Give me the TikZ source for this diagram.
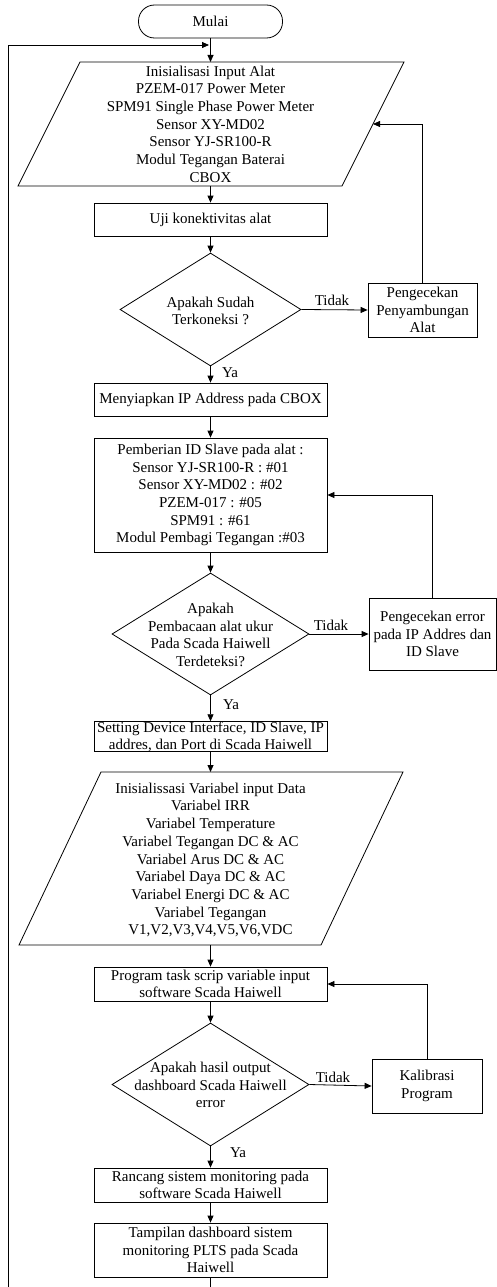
\documentclass[tikz,border=0pt]{standalone}
\usepackage{fontspec}
\setmainfont{Liberation Serif}
\usetikzlibrary{arrows.meta,shapes.geometric}
\begin{document}
\begin{tikzpicture}[x=1pt,y=-1pt,line width=0.8pt,
  font=\fontsize{15}{17.7}\selectfont,
  box/.style={draw,rectangle,align=center,minimum width=233pt,inner xsep=1pt,inner ysep=0pt},
  sidebox/.style={draw,rectangle,align=center,inner xsep=1pt,inner ysep=0pt},
  dia/.style={draw,diamond,inner sep=0pt},
  txt/.style={align=center,inner sep=0pt},
  lbl/.style={inner sep=0pt},
  arr/.style={-{Triangle[length=7pt,width=6pt]}}]
\useasboundingbox (0,0) rectangle (497,1287);

% start
\node[draw,rectangle,rounded corners=16pt,minimum width=144pt,minimum height=33pt,inner sep=0pt] (start) at (210.5,21.5) {Mulai};

% input 1 (parallelogram)
\draw (80,62) -- (404,62) -- (342,186) -- (18,186) -- cycle;
\node[txt] (p1) at (210.5,124) {Inisialisasi Input Alat\\PZEM-017 Power Meter\\SPM91 Single Phase Power Meter\\Sensor XY-MD02\\Sensor YJ-SR100-R\\Modul Tegangan Baterai\\CBOX};
\coordinate (p1top) at (210.5,62);
\coordinate (p1bot) at (210.5,186);
\coordinate (p1e) at (373,124);

\node[box,minimum height=33pt] (uji) at (210.5,219.5) {Uji konektivitas alat};
\node[dia,minimum width=181pt,minimum height=113pt] (d1) at (210.5,309.5) {};
\node[txt] (d1t) at (210.5,311) {Apakah Sudah\\Terkoneksi ?};
\node[sidebox,minimum width=109pt,minimum height=54pt] (c1) at (422.5,310) {Pengecekan\\Penyambungan\\Alat};

\node[box,minimum height=33pt] (ip) at (210.5,399.5) {Menyiapkan IP Address pada CBOX};
\node[box,minimum height=114pt] (slave) at (210.5,495) {Pemberian ID Slave pada alat :\\Sensor YJ-SR100-R : \#01\\Sensor XY-MD02 : \#02\\PZEM-017 : \#05\\SPM91 : \#61\\Modul Pembagi Tegangan :\#03};
\node[dia,minimum width=197pt,minimum height=122pt] (d2) at (210.5,634) {};
\node[txt] (d2t) at (210.5,635) {Apakah\\Pembacaan alat ukur\\Pada Scada Haiwell\\Terdeteksi?};
\node[sidebox,minimum width=127pt,minimum height=72pt] (c2) at (432.5,634) {Pengecekan error\\pada IP Addres dan\\ID Slave};

\node[box,minimum height=29pt,font=\fontsize{15}{16.8}\selectfont] (set) at (210.5,736.5) {Setting Device Interface, ID Slave, IP\\addres, dan Port di Scada Haiwell};

% input 2 (parallelogram)
\draw (101,772) -- (403,772) -- (321,945) -- (19,945) -- cycle;
\node[txt] (p2) at (210.5,860) {Inisialissasi Variabel input Data\\Variabel IRR\\Variabel Temperature\\Variabel Tegangan DC \& AC\\Variabel Arus DC \& AC\\Variabel Daya DC \& AC\\Variabel Energi DC \& AC\\Variabel Tegangan\\V1,V2,V3,V4,V5,V6,VDC};
\coordinate (p2top) at (210.5,772);
\coordinate (p2bot) at (210.5,945);

\node[box,minimum height=34pt] (prog) at (210.5,984) {Program task scrip variable input\\software Scada Haiwell};
\node[dia,minimum width=197pt,minimum height=123pt] (d3) at (210.5,1084.5) {};
\node[txt] (d3t) at (210.5,1085) {Apakah hasil output\\dashboard Scada Haiwell\\error};
\node[sidebox,minimum width=110pt,minimum height=54pt] (c3) at (427,1086) {Kalibrasi\\Program};

\node[box,minimum height=34pt] (ranc) at (210.5,1185) {Rancang sistem monitoring pada\\software Scada Haiwell};
\node[box,minimum height=54pt] (tamp) at (210.5,1250) {Tampilan dashboard sistem\\monitoring PLTS pada Scada\\Haiwell};

% connectors
\coordinate (lb) at (8,1287);
\coordinate (lt) at (8,45);
\coordinate (bot) at (210.5,1287);
\draw[arr,shorten >=1.5pt] (lb) -- (lt) -- (lt -| start.south);
\draw[arr] (start.south) -- (p1top);
\draw[arr] (p1bot) -- (uji.north);
\draw[arr] (uji.south) -- (d1.north);
\draw[arr] (d1.east) -- (c1.west);
\draw[arr] (c1.north) |- (p1e);
\draw[arr] (d1.south) -- (ip.north);
\draw[arr] (ip.south) -- (slave.north);
\draw[arr] (slave.south) -- (d2.north);
\draw[arr] (d2.east) -- (c2.west);
\draw[arr] (c2.north) |- (slave.east);
\draw[arr] (d2.south) -- (set.north);
\draw[arr] (set.south) -- (p2top);
\draw[arr] (p2bot) -- (prog.north);
\draw[arr] (prog.south) -- (d3.north);
\draw[arr] (d3.east) -- (c3.west);
\draw[arr] (c3.north) |- (prog.east);
\draw[arr] (d3.south) -- (ranc.north);
\draw[arr] (ranc.south) -- (tamp.north);
\draw (tamp.south) -- (bot);

% labels
\node[lbl] (t1) at (332,300) {Tidak};
\node[lbl] (t2) at (331,625) {Tidak};
\node[lbl] (t3) at (333,1077) {Tidak};
\node[lbl] (y1) at (230,373) {Ya};
\node[lbl] (y2) at (231,705) {Ya};
\node[lbl] (y3) at (238,1153) {Ya};
\end{tikzpicture}
\end{document}
